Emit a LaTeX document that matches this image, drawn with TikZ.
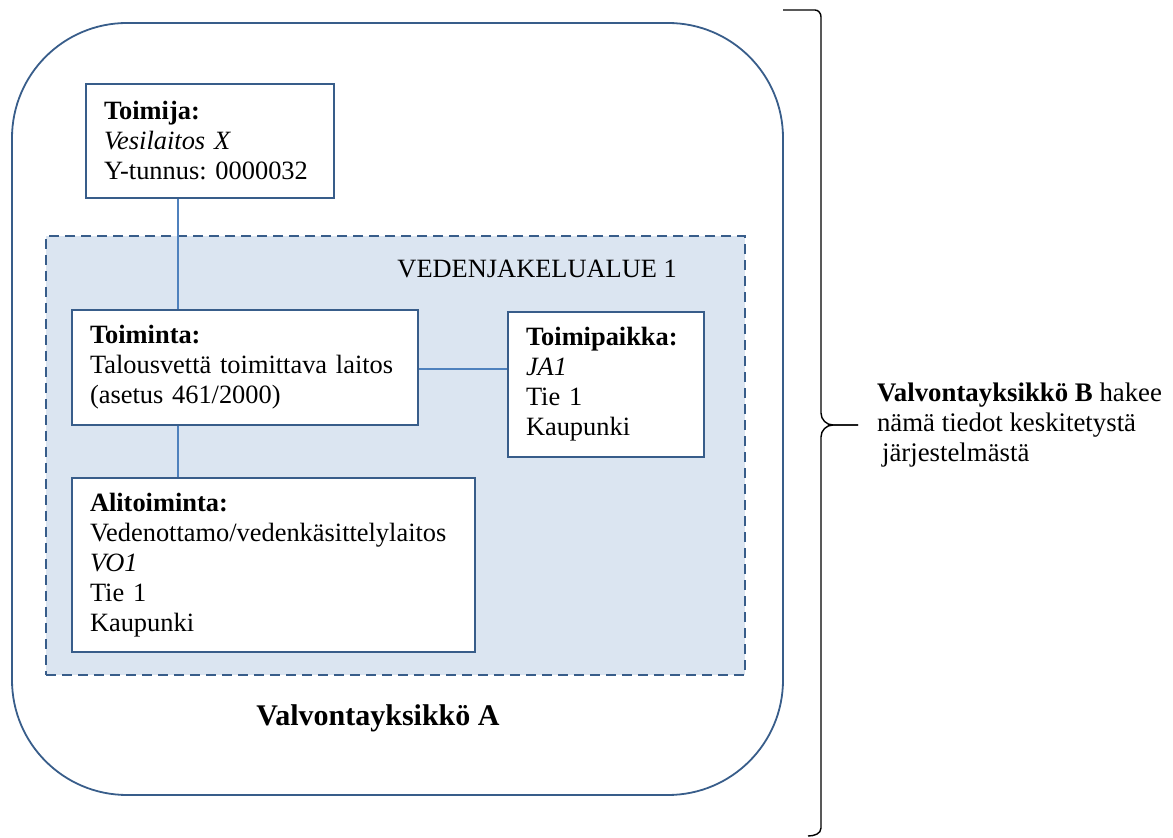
\documentclass[tikz,border=0pt]{standalone}
\usepackage{fontspec}
\setmainfont{Liberation Serif}
\usetikzlibrary{positioning}
\usetikzlibrary{calc}
\frenchspacing

\definecolor{rajaus}{HTML}{385D8A}
\definecolor{viiva}{HTML}{4F81BD}
\definecolor{alueväri}{HTML}{DBE5F1}

\begin{document}
\begin{tikzpicture}[x=0.5pt,y=-0.5pt]
\tikzstyle{unit} =[rectangle,rounded corners=57.5pt,draw=rajaus,line width=0.9pt,minimum width=385.5pt,minimum height=386pt]
\tikzstyle{region} =[rectangle,draw=rajaus,line width=0.9pt,dash pattern=on 5pt off 3pt,fill=alueväri,minimum width=349.5pt,minimum height=219.5pt]
\tikzstyle{box} =[rectangle,draw=rajaus,line width=0.7pt,fill=white,align=left,inner xsep=9pt,font=\fontsize{13.2}{15}\selectfont]
\tikzstyle{link} =[draw=viiva,line width=0.75pt]
\tikzstyle{brace} =[draw=black,line width=0.7pt]
\useasboundingbox (0,0) rectangle (1173,838);

\node[unit](yksikko) at (397.5,409) {};
\node[font=\fontsize{15}{17}\selectfont\bfseries](yksikkoA) at (378,718) {Valvontayksikkö A};

\node[region](alue) at (395.5,455.5) {};
\node[font=\fontsize{13.2}{15}\selectfont,anchor=east](alueNimi) at ($(alue.north east)+(-62,34)$) {VEDENJAKELUALUE 1};

\coordinate (runko) at (178,0);

\node[box,text width=106pt,minimum height=57pt](toimija) at (210,141)
  {\textbf{Toimija:}\\\textit{Vesilaitos X}\\Y-tunnus: 0000032};
\node[box,text width=155pt,minimum height=57.5pt](toiminta) at (245,367.5)
  {\textbf{Toiminta:}\\Talousvettä toimittava laitos\\(asetus 461/2000)};
\node[box,text width=80pt,minimum height=72.5pt](toimipaikka) at (606,384.5)
  {\textbf{Toimipaikka:}\\\textit{JA1}\\Tie 1\\Kaupunki};
\node[box,text width=183.5pt,minimum height=87pt](alitoiminta) at (273.5,565)
  {\textbf{Alitoiminta:}\\Vedenottamo/vedenkäsittelylaitos\\\textit{VO1}\\Tie 1\\Kaupunki};

\draw[link] (toimija.south -| runko)--(toiminta.north -| runko);
\draw[link] (toiminta.south -| runko)--(alitoiminta.north -| runko);
\draw[link] ($(toiminta.east)+(0,1.5)$)--($(toiminta.east -| toimipaikka.west)+(0,1.5)$);

% aaltosulje
\coordinate (karki) at (858,425);
\draw[brace] (783,10)--(815,10) to[out=0,in=90] (821,17)--(821,413) to[out=-90,in=180] (833,425)--(karki);
\draw[brace] (karki)--(833,425) to[out=180,in=90] (821,437)--(821,828) to[out=-90,in=0] (808,836);

\node[font=\fontsize{13.4}{15}\selectfont,anchor=west,align=left](tieto) at ($(karki)+(12,0)$)
  {\textbf{Valvontayksikkö B} hakee\\nämä tiedot keskitetystä\\\hspace{2.5pt}järjestelmästä};
\end{tikzpicture}
\end{document}
